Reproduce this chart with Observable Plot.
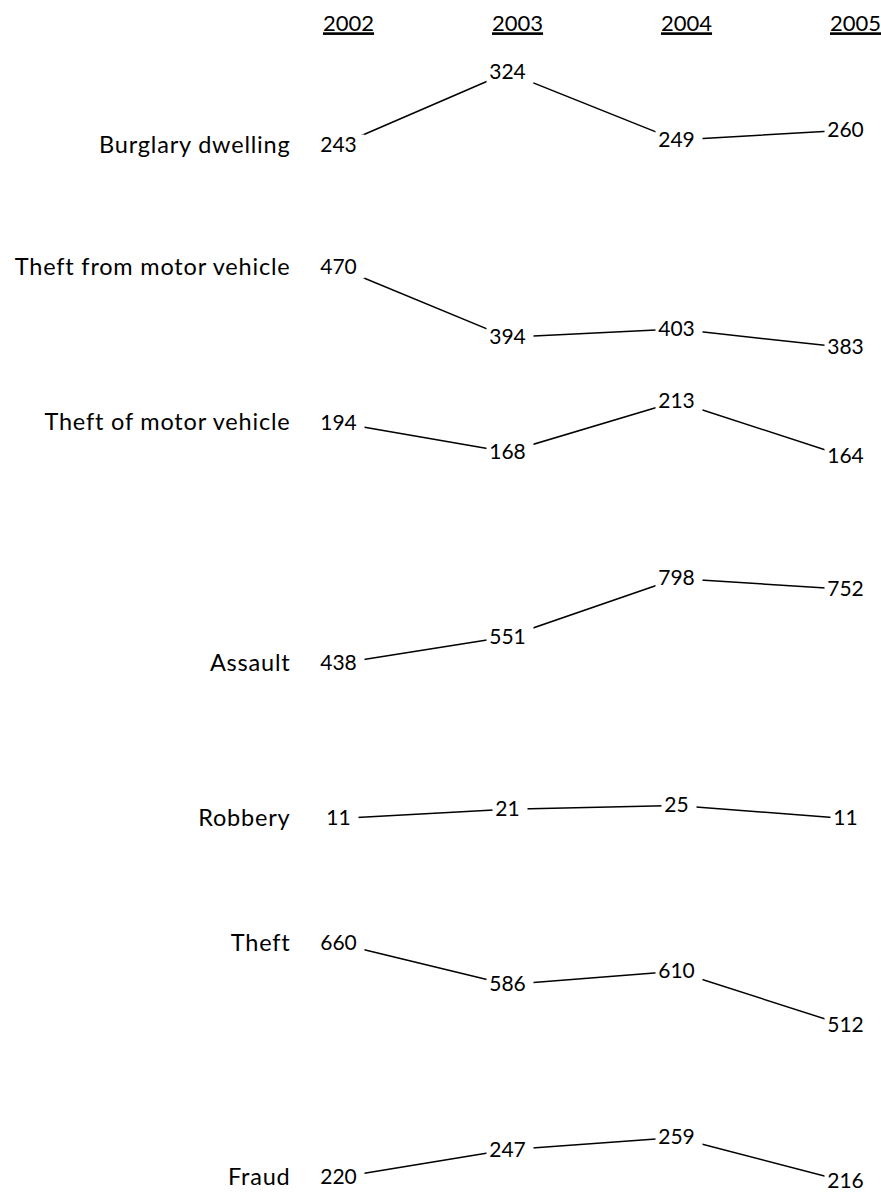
<!DOCTYPE html>
<html>
<head>
<meta charset="utf-8">
<script src="https://cdn.jsdelivr.net/npm/d3@7"></script>
<script src="https://cdn.jsdelivr.net/npm/@observablehq/plot@0.6"></script>
<style>
  html, body { margin: 0; padding: 0; background: #fff; }
</style>
</head>
<body>
<div id="chart"></div>
<script>
// ---- data ----
const years = ["2002", "2003", "2004", "2005"];
const crimes = ["Burglary dwelling", "Theft from motor vehicle", "Theft of motor vehicle", "Assault", "Robbery", "Theft", "Fraud"];
const burglaryDwelling = [243, 324, 249, 260];
const theftFromMotorVehicle = [470, 394, 403, 383];
const theftOfMotorVehicle = [194, 168, 213, 164];
const assault = [438, 551, 798, 752];
const robbery = [11, 21, 25, 11];
const theft = [660, 586, 610, 512];
const fraud = [220, 247, 259, 216];
const series = [burglaryDwelling, theftFromMotorVehicle, theftOfMotorVehicle, assault, robbery, theft, fraud];

// ---- layout (vertical slot of each row: where its lowest and highest value sit) ----
const rowLow  = [145, 347, 456, 663, 818, 1025, 1181];
const rowHigh = [72, 267, 401, 578, 805, 943, 1137];

const rows = [];
series.forEach((vals, i) => {
  const lo = d3.min(vals), hi = d3.max(vals);
  vals.forEach((v, j) => {
    rows.push({
      crime: crimes[i], year: years[j], value: v,
      pos: rowLow[i] - (hi === lo ? 0 : (v - lo) / (hi - lo)) * (rowLow[i] - rowHigh[i])
    });
  });
});
const firsts = rows.filter(d => d.year === years[0]);

const W = 881, H = 1194;
const font = "Lato, 'Noto Sans', sans-serif";
const numSize = 21, labelSize = 23.5, headSize = 22;

// white knock-out boxes behind the numbers so the connecting lines stop short of them
const box = (left, right, half) => ({ draw(ctx) { ctx.rect(-left, -half, left + right, 2 * half); } });
const box3 = box(21, 26, 11);
const box2 = box(15, 20, 11);

const chart = Plot.plot({
  width: W,
  height: H,
  margin: 0,
  style: { fontFamily: font, fontSize: numSize + "px", color: "#000", background: "#fff" },
  x: { type: "point", domain: years, range: [338, 845], padding: 0, axis: null },
  y: { type: "linear", domain: [0, H], range: [0, H], axis: null },
  marks: [
    Plot.line(rows, { x: "year", y: "pos", z: "crime", stroke: "#000", strokeWidth: 1.5 }),
    Plot.dot(rows, { filter: d => String(d.value).length >= 3, x: "year", y: "pos", symbol: box3, fill: "#fff", stroke: "none" }),
    Plot.dot(rows, { filter: d => String(d.value).length < 3, x: "year", y: "pos", symbol: box2, fill: "#fff", stroke: "none" }),
    Plot.text(rows, { x: "year", y: "pos", text: d => String(d.value), fill: "#000", fontSize: numSize }),
    Plot.text(firsts, { x: "year", y: "pos", text: "crime", textAnchor: "end", dx: -48, fill: "#000", fontSize: labelSize }),
    Plot.text(years, { x: d => d, text: d => d, frameAnchor: "top", lineAnchor: "middle", dy: 23, dx: 10, fill: "#000", fontSize: headSize })
  ]
});
// underline the year headers and widen the row labels slightly
const groups = chart.querySelectorAll('g[aria-label="text"]');
const headerGroup = groups[groups.length - 1];
headerGroup.querySelectorAll("text").forEach(t => t.setAttribute("text-decoration", "underline"));
headerGroup.style.textDecoration = "underline";
const labelGroup = groups[groups.length - 2];
labelGroup.style.letterSpacing = "0.8px";
document.getElementById("chart").appendChild(chart);
</script>
</body>
</html>
